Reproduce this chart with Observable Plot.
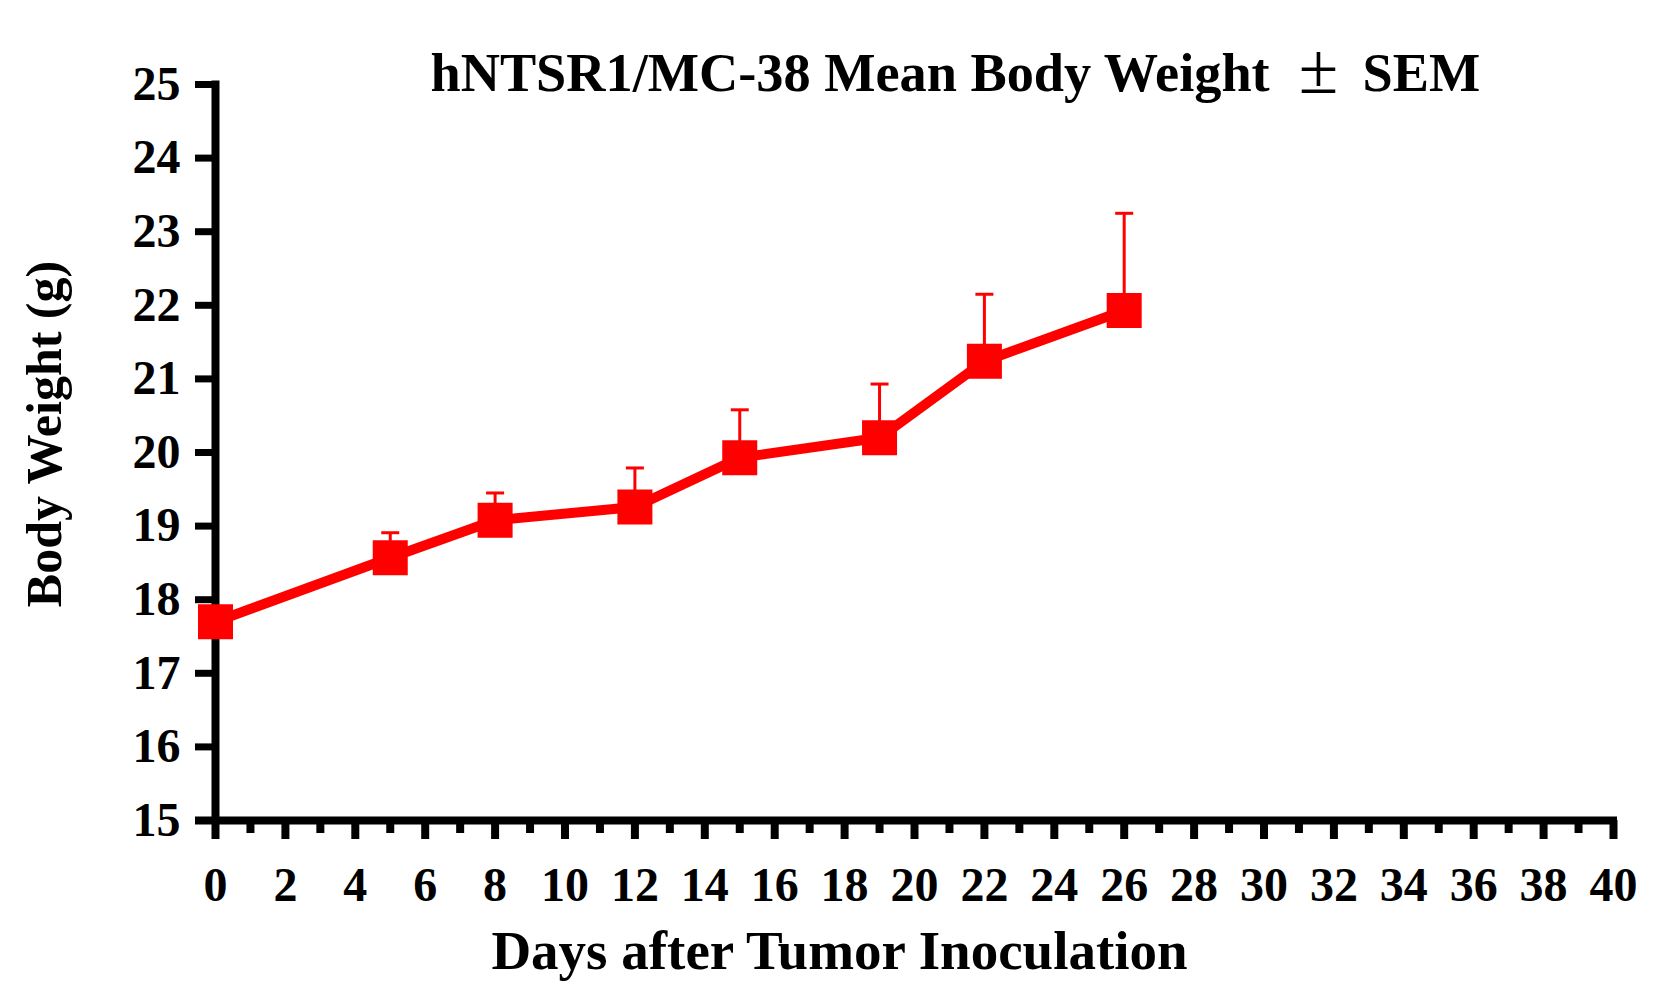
<!DOCTYPE html>
<html>
<head>
<meta charset="utf-8">
<script src="https://cdn.jsdelivr.net/npm/d3@7"></script>
<script src="https://cdn.jsdelivr.net/npm/@observablehq/plot@0.6"></script>
<style>
  html, body { margin: 0; padding: 0; background: white; }
</style>
</head>
<body>
<div id="chart"></div>
<script>
// Data
const days = [0, 5, 8, 12, 15, 19, 22, 26];
const means = [17.70, 18.57, 19.08, 19.26, 19.93, 20.20, 21.24, 21.93];
const sems = [0.15, 0.34, 0.37, 0.53, 0.65, 0.73, 0.91, 1.32];

const xMajorTicks = [0, 2, 4, 6, 8, 10, 12, 14, 16, 18, 20, 22, 24, 26, 28, 30, 32, 34, 36, 38, 40];
const xMinorTicks = [1, 3, 5, 7, 9, 11, 13, 15, 17, 19, 21, 23, 25, 27, 29, 31, 33, 35, 37, 39];
const yTicks = [15, 16, 17, 18, 19, 20, 21, 22, 23, 24, 25];

// Title is written in three pieces: main text, the ± sign (larger, regular weight), and "SEM"
const titleMain = "hNTSR1/MC-38 Mean Body Weight";
const titlePlusMinus = "\u00B1";
const titleEnd = "SEM";
const xLabel = "Days after Tumor Inoculation";
const yLabel = "Body Weight (g)";

const data = days.map((d, i) => ({day: d, mean: means[i], sem: sems[i]}));

const RED = "#ff0000";
const FONT = "'Liberation Serif', 'Times New Roman', serif";

// horizontal cap symbol for error bars
const capSymbol = {
  draw(context, size) {
    const w = 9;
    context.moveTo(-w, 0);
    context.lineTo(w, 0);
  }
};

const chart = Plot.plot({
  width: 1678,
  height: 994,
  marginLeft: 215,
  marginRight: 65,
  marginTop: 84,
  marginBottom: 174,
  style: {
    fontFamily: FONT,
    fontWeight: "bold",
    fontSize: "48px",
    background: "white",
    color: "black"
  },
  x: {domain: [0, 40]},
  y: {domain: [15, 25]},
  marks: [
    // axis lines
    Plot.ruleY([15], {stroke: "black", strokeWidth: 8, insetLeft: -20, insetRight: -4}),
    Plot.ruleX([0], {stroke: "black", strokeWidth: 8, insetTop: -3.5, insetBottom: -4}),
    // ticks and labels
    Plot.axisX({ticks: xMajorTicks, tickSize: 19, tickPadding: 27, strokeWidth: 8, label: null, tickFormat: d => String(d)}),
    Plot.axisX({ticks: xMinorTicks, tickSize: 13, strokeWidth: 8, label: null, tickFormat: () => ""}),
    Plot.axisY({ticks: yTicks, tickSize: 20, tickPadding: 15, strokeWidth: 7, label: null, tickFormat: d => String(d)}),
    // error bars (upper only)
    Plot.ruleX(data, {x: "day", y1: "mean", y2: d => d.mean + d.sem, stroke: RED, strokeWidth: 3}),
    Plot.dot(data, {x: "day", y: d => d.mean + d.sem, symbol: capSymbol, r: 10, stroke: RED, strokeWidth: 3, fill: "none"}),
    // mean line
    Plot.line(data, {x: "day", y: "mean", stroke: RED, strokeWidth: 10}),
    // square markers
    Plot.dot(data, {x: "day", y: "mean", symbol: "square", r: 19.75, fill: RED, stroke: "none"}),
    // title
    Plot.text([titleMain], {text: d => d, frameAnchor: "top-left", textAnchor: "start", lineAnchor: "bottom", dx: 215, dy: 6, fontSize: 54.3, fontWeight: "bold", fontFamily: FONT, fill: "black"}),
    Plot.text([titlePlusMinus], {text: d => d, frameAnchor: "top-left", textAnchor: "middle", lineAnchor: "bottom", dx: 1103, dy: 8, fontSize: 72, fontWeight: "normal", fontFamily: FONT, fill: "black"}),
    Plot.text([titleEnd], {text: d => d, frameAnchor: "top-left", textAnchor: "start", lineAnchor: "bottom", dx: 1147, dy: 6, fontSize: 54.3, fontWeight: "bold", fontFamily: FONT, fill: "black"}),
    // x label
    Plot.text([xLabel], {text: d => d, frameAnchor: "bottom", textAnchor: "middle", lineAnchor: "bottom", dx: -75, dy: 148, fontSize: 55, fontWeight: "bold", fontFamily: FONT, fill: "black"}),
    // y label
    Plot.text([yLabel], {text: d => d, frameAnchor: "left", textAnchor: "middle", lineAnchor: "bottom", rotate: -90, dx: -155, dy: -18.5, fontSize: 50, fontWeight: "bold", fontFamily: FONT, fill: "black"})
  ]
});

document.getElementById("chart").appendChild(chart);
</script>
</body>
</html>
